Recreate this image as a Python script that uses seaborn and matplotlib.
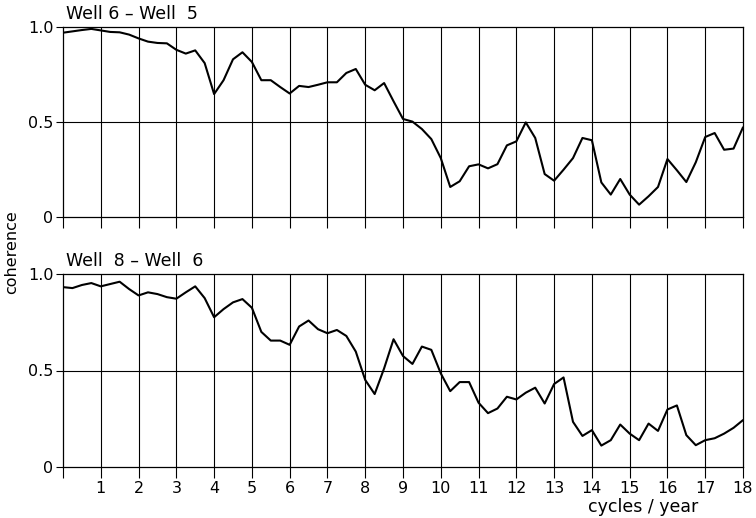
import numpy as np
import pandas as pd
import matplotlib
matplotlib.use("Agg")
import matplotlib.pyplot as plt
import seaborn as sns

freq = [i * 0.25 for i in range(73)]

well6_well5 = [0.970, 0.977, 0.984, 0.990, 0.982, 0.974, 0.972, 0.960, 0.940, 0.923,
               0.916, 0.914, 0.880, 0.860, 0.877, 0.810, 0.647, 0.720, 0.830, 0.867,
               0.816, 0.720, 0.720, 0.684, 0.650, 0.690, 0.684, 0.696, 0.709, 0.709,
               0.758, 0.779, 0.696, 0.667, 0.705, 0.609, 0.516, 0.502, 0.463, 0.410,
               0.310, 0.158, 0.188, 0.267, 0.277, 0.256, 0.278, 0.377, 0.398, 0.498,
               0.416, 0.226, 0.191, 0.249, 0.310, 0.416, 0.404, 0.182, 0.118, 0.200,
               0.118, 0.065, 0.109, 0.158, 0.305, 0.246, 0.184, 0.288, 0.421, 0.442,
               0.354, 0.360, 0.472]

well8_well6 = [0.932, 0.927, 0.943, 0.953, 0.936, 0.948, 0.960, 0.922, 0.889, 0.905,
               0.896, 0.880, 0.872, 0.905, 0.936, 0.875, 0.776, 0.818, 0.853, 0.870,
               0.825, 0.700, 0.655, 0.655, 0.633, 0.728, 0.759, 0.714, 0.693, 0.710,
               0.679, 0.598, 0.451, 0.378, 0.511, 0.662, 0.575, 0.534, 0.624, 0.607,
               0.485, 0.393, 0.440, 0.440, 0.333, 0.279, 0.303, 0.364, 0.350, 0.385,
               0.411, 0.329, 0.430, 0.464, 0.234, 0.161, 0.191, 0.111, 0.139, 0.220,
               0.173, 0.139, 0.225, 0.187, 0.298, 0.319, 0.165, 0.113, 0.139, 0.149,
               0.173, 0.203, 0.243]

titles = ["Well 6 \u2013 Well  5", "Well  8 \u2013 Well  6"]
xticks = list(range(0, 19))
xticklabels = [""] + [str(i) for i in range(1, 19)]
yticks = [0, 0.5, 1.0]
yticklabels = ["0", "0.5", "1.0"]

sns.set_theme(style="white")
plt.rcParams['font.family'] = ['DejaVu Sans']
plt.rcParams['text.color'] = 'black'
plt.rcParams['xtick.color'] = 'black'
plt.rcParams['ytick.color'] = 'black'
plt.rcParams['axes.labelcolor'] = 'black'

fig = plt.figure(figsize=(7.56, 5.18), dpi=100)
L, R = 63 / 756, 743 / 756
ax1 = fig.add_axes([L, 1 - 217 / 518, R - L, (217 - 27) / 518])
ax2 = fig.add_axes([L, 1 - 467 / 518, R - L, (467 - 274) / 518])

for ax, vals, title, show_labels in [(ax1, well6_well5, titles[0], False),
                                     (ax2, well8_well6, titles[1], True)]:
    df = pd.DataFrame({"freq": freq, "coh": vals})
    for x in range(1, 18):
        ax.axvline(x, color="black", lw=0.8, zorder=1)
    ax.axhline(0.5, color="black", lw=0.8, zorder=1)
    sns.lineplot(data=df, x="freq", y="coh", ax=ax, color="black", lw=1.5, zorder=3)
    ax.set_xlim(0, 18)
    ax.set_ylim(0, 1)
    ax.set_xticks(xticks)
    if show_labels:
        ax.set_xticklabels(xticklabels, fontsize=11.5)
    else:
        ax.set_xticklabels([])
    ax.set_yticks(yticks)
    ax.set_yticklabels(yticklabels, fontsize=11.5)
    ax.tick_params(axis="x", direction="out", length=8, width=0.8, colors="black", pad=2, bottom=True)
    ax.tick_params(axis="y", direction="out", length=5, width=0.8, colors="black", pad=2, left=True)
    for s in ax.spines.values():
        s.set_visible(True)
        s.set_color("black")
        s.set_linewidth(0.9)
    ax.set_xlabel("")
    ax.set_ylabel("")
    ax.text(0.005, 1.02, title, transform=ax.transAxes, ha="left", va="bottom",
            fontsize=12.5, color="black")

fig.text(12 / 756, 1 - 252 / 518, "coherence", rotation=90, ha="center", va="center",
         fontsize=11.5, color="black")
fig.text(643 / 756, 1 - 507 / 518, "cycles / year", ha="center", va="center",
         fontsize=12.5, color="black")

fig.savefig("out.png", dpi=100)
